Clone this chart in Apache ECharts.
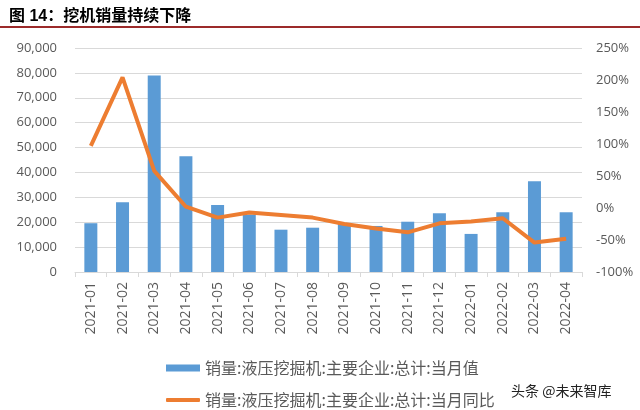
<!DOCTYPE html>
<html><head><meta charset="utf-8">
<script src="https://cdn.jsdelivr.net/npm/echarts@6/dist/echarts.min.js"></script>
<style>html,body{margin:0;padding:0;background:#fff}#c{width:640px;height:410px}</style>
</head><body><div id="c"></div>
<script>
const categories = ['2021-01','2021-02','2021-03','2021-04','2021-05','2021-06','2021-07','2021-08','2021-09','2021-10','2021-11','2021-12','2022-01','2022-02','2022-03','2022-04'];
const salesValues = [19600, 28000, 79000, 46500, 26900, 23100, 17000, 17800, 19600, 18500, 20200, 23600, 15300, 24000, 36500, 24000];
const yoyValues = [97, 204, 58, 2, -15, -7, -11, -15, -25, -32, -38, -24, -21, -16, -54, -48];
const seriesNames = ['销量:液压挖掘机:主要企业:总计:当月值', '销量:液压挖掘机:主要企业:总计:当月同比'];
const titleText = '图 14：挖机销量持续下降';
const watermark = '头条 @未来智库';

const chart = echarts.init(document.getElementById('c'), null, {renderer: 'canvas'});
const gray = '#595959';
const font = "'Open Sans', 'Noto Sans CJK SC', sans-serif";
chart.setOption({
  animation: false,
  textStyle: {fontFamily: font},
  title: {
    text: titleText, left: 4, top: 4,
    textStyle: {fontSize: 16, fontWeight: 'bold', color: '#000', fontFamily: "'Liberation Sans','Noto Sans CJK SC',sans-serif"}
  },
  graphic: [
    {type: 'line', shape: {x1: 0, y1: 27, x2: 640, y2: 27}, style: {stroke: '#9C2A2A', lineWidth: 2}},
    {type: 'text', left: 511, top: 384, style: {text: watermark, fontSize: 14, fill: '#222', fontFamily: "'Noto Sans CJK SC',sans-serif"}}
  ],
  legend: [
    {data: [{name: seriesNames[0], icon: 'rect'}], left: 161, top: 355, itemWidth: 34, itemHeight: 7, itemGap: 5,
     textStyle: {fontSize: 16, color: gray, fontFamily: "'Noto Sans CJK SC',sans-serif"}},
    {data: [{name: seriesNames[1], icon: 'roundRect'}], left: 161, top: 387, itemWidth: 34, itemHeight: 4, itemGap: 5,
     textStyle: {fontSize: 16, color: gray, fontFamily: "'Noto Sans CJK SC',sans-serif"}}
  ],
  grid: {left: 75, right: 58, top: 48, bottom: 138},
  xAxis: {
    type: 'category', data: categories, boundaryGap: true,
    axisLine: {lineStyle: {color: '#d9d9d9'}},
    axisTick: {show: true, alignWithLabel: false, length: 5, lineStyle: {color: '#d9d9d9'}},
    axisLabel: {rotate: 90, color: gray, fontSize: 14, margin: 10, interval: 0}
  },
  yAxis: [
    {type: 'value', min: 0, max: 90000, interval: 10000,
     axisLine: {show: false}, axisTick: {show: false},
     splitLine: {lineStyle: {color: '#d9d9d9'}},
     axisLabel: {color: gray, fontSize: 13, margin: 18,
       formatter: v => v.toLocaleString('en-US')}},
    {type: 'value', min: -100, max: 250, interval: 50,
     axisLine: {show: false}, axisTick: {show: false}, splitLine: {show: false},
     axisLabel: {color: gray, fontSize: 13, margin: 14, formatter: v => v + '%'}}
  ],
  series: [
    {name: seriesNames[0], type: 'bar', data: salesValues, barWidth: '41%',
     itemStyle: {color: '#5B9BD5'}},
    {name: seriesNames[1], type: 'line', yAxisIndex: 1, data: yoyValues, symbol: 'none',
     lineStyle: {color: '#ED7D31', width: 4}, itemStyle: {color: '#ED7D31'}}
  ]
});
</script></body></html>
